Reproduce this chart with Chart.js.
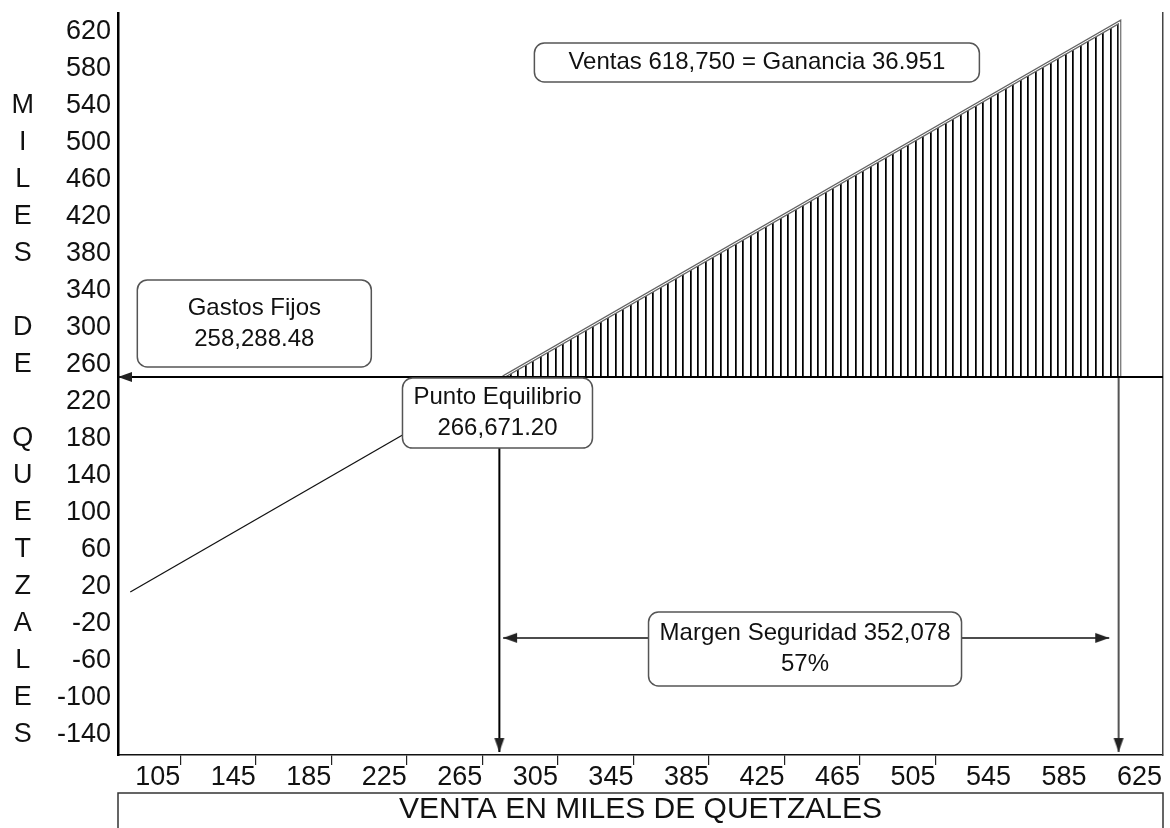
<!DOCTYPE html>
<html>
<head>
<meta charset="utf-8">
<script src="https://cdn.jsdelivr.net/npm/chart.js@4.4.1/dist/chart.umd.min.js"></script>
<style>
  html, body { margin: 0; padding: 0; background: #fff; }
</style>
</head>
<body>
<canvas id="chart" width="1170" height="828"></canvas>
<script>
// valores (miles de quetzales)
const xTicks = [105, 145, 185, 225, 265, 305, 345, 385, 425, 465, 505, 545, 585, 625];
const yTicks = [620, 580, 540, 500, 460, 420, 380, 340, 300, 260, 220, 180, 140, 100, 60, 20, -20, -60, -100, -140];
const yLetters = ['', '', 'M', 'I', 'L', 'E', 'S', '', 'D', 'E', '', 'Q', 'U', 'E', 'T', 'Z', 'A', 'L', 'E', 'S'];

const lossX = [78.5, 276];
const lossY = [14.6, 247];
const profitX = [276, 602.5, 602.5];
const profitY = [247, 630.8, 247];
const fixedCost = 247;
const breakEvenX = 274;
const salesX = 602;
const arrowEndY = -158.4;
const marginX = [276, 597];
const marginY = -35;

const xMin = 72, xMax = 625.5;
const yMin = -161.6, yMax = 640.5;

const notes = [
    { x: 410.4, y: 587, w: 445, h: 39, lines: ['Ventas 618,750 = Ganancia 36.951'] },
    { x: 144.2, y: 304.9, w: 234, h: 87, lines: ['Gastos Fijos', '258,288.48'] },
    { x: 273, y: 208, w: 190, h: 70, lines: ['Punto Equilibrio', '266,671.20'] },
    { x: 435.9, y: -47, w: 313, h: 74, lines: ['Margen Seguridad 352,078', '57%'] }
];

const FONT = 'Liberation Sans';
Chart.defaults.font.family = FONT;

function pts(xs, ys) {
    return xs.map((x, i) => ({ x: x, y: ys[i] }));
}

function noPad(s) {
    s.paddingTop = 0;
    s.paddingBottom = 0;
    s.paddingLeft = 0;
    s.paddingRight = 0;
}

function makeArrow() {
    // punta en el centro del canvas
    let c = document.createElement('canvas');
    c.width = 30;
    c.height = 12;
    let g = c.getContext('2d');
    g.fillStyle = '#222';
    g.beginPath();
    g.moveTo(15, 6);
    g.lineTo(1, 1);
    g.lineTo(1, 11);
    g.closePath();
    g.fill();
    return c;
}

function makeHatch() {
    let c = document.createElement('canvas');
    c.width = 15;
    c.height = 4;
    let g = c.getContext('2d');
    g.fillStyle = '#000';
    g.fillRect(0, 0, 1, 4);
    g.fillRect(7, 0, 1, 4);
    g.fillStyle = '#444';
    g.fillRect(1, 0, 1, 4);
    g.fillRect(8, 0, 1, 4);
    return g.createPattern(c, 'repeat');
}

const arrow = makeArrow();

const decor = {
    id: 'decor',
    afterDraw(chart) {
        const { ctx, chartArea } = chart;
        const x = chart.scales.x, y = chart.scales.y;
        ctx.save();

        // caja del titulo
        const top = x.bottom - 35;
        ctx.strokeStyle = '#333';
        ctx.lineWidth = 1.5;
        ctx.beginPath();
        ctx.moveTo(chartArea.left, x.bottom + 2);
        ctx.lineTo(chartArea.left, top);
        ctx.lineTo(chartArea.right, top);
        ctx.lineTo(chartArea.right, x.bottom + 2);
        ctx.stroke();

        ctx.font = '24px "' + FONT + '"';
        ctx.textAlign = 'center';
        ctx.textBaseline = 'middle';
        notes.forEach(n => {
            const cx = x.getPixelForValue(n.x);
            const cy = y.getPixelForValue(n.y);
            ctx.beginPath();
            ctx.roundRect(cx - n.w / 2, cy - n.h / 2, n.w, n.h, 10);
            ctx.fillStyle = '#fff';
            ctx.fill();
            ctx.strokeStyle = '#555';
            ctx.lineWidth = 1.5;
            ctx.stroke();
            ctx.fillStyle = '#111';
            const step = 31;
            const y0 = cy - (n.lines.length - 1) * step / 2;
            n.lines.forEach((t, i) => ctx.fillText(t, cx, y0 + i * step));
        });
        ctx.restore();
    }
};

function initChart() {
    const hatch = makeHatch();

    let data = {
        datasets: [
            {   // gastos fijos
                data: pts([xMin, xMax], [fixedCost, fixedCost]),
                borderColor: '#000',
                borderWidth: 2,
                pointStyle: arrow,
                pointRadius: [1, 0],
                rotation: [180, 0],
                order: 1
            },
            {   // punto de equilibrio
                data: pts([breakEvenX, breakEvenX], [fixedCost, arrowEndY]),
                borderColor: '#000',
                borderWidth: 2,
                pointStyle: arrow,
                pointRadius: [0, 1],
                rotation: [0, 90],
                order: 2
            },
            {   // ventas
                data: pts([salesX, salesX], [fixedCost, arrowEndY]),
                borderColor: '#555',
                borderWidth: 2,
                pointStyle: arrow,
                pointRadius: [0, 1],
                rotation: [0, 90],
                order: 2
            },
            {   // margen de seguridad
                data: pts(marginX, [marginY, marginY]),
                borderColor: '#111',
                borderWidth: 1.5,
                pointStyle: arrow,
                pointRadius: [1, 1],
                rotation: [180, 0],
                order: 2
            },
            {   // perdida
                data: pts(lossX, lossY),
                borderColor: '#111',
                borderWidth: 1.3,
                pointRadius: 0,
                order: 3
            },
            {   // borde interior de ganancia
                data: pts(profitX, profitY),
                borderColor: '#fff',
                borderWidth: 1,
                pointRadius: 0,
                order: 4
            },
            {   // ganancia
                data: pts(profitX, profitY),
                borderColor: '#666',
                borderWidth: 3.5,
                pointRadius: 0,
                backgroundColor: hatch,
                fill: { value: fixedCost },
                order: 5
            }
        ]
    };

    const tickFont = { size: 27, family: FONT };

    let options = {
        responsive: false,
        animation: false,
        layout: { padding: { top: 13, right: 7, left: 0, bottom: 0 } },
        elements: { line: { tension: 0 } },
        plugins: {
            legend: { display: false },
            tooltip: { enabled: false }
        },
        scales: {
            x: {
                type: 'linear',
                min: xMin,
                max: xMax,
                afterBuildTicks: s => { s.ticks = xTicks.map(v => ({ value: v })); },
                afterFit: s => { s.height = 73; noPad(s); },
                ticks: {
                    callback: v => String(v),
                    align: 'end',
                    autoSkip: false,
                    maxRotation: 0,
                    padding: -4,
                    color: '#111',
                    font: tickFont
                },
                grid: {
                    drawOnChartArea: false,
                    tickLength: 10,
                    lineWidth: 1.2,
                    color: c => (c.tick && c.tick.value >= 545) ? 'rgba(0,0,0,0)' : '#222'
                },
                border: { color: '#111', width: 1.5 },
                title: {
                    display: true,
                    text: 'VENTA EN MILES DE QUETZALES',
                    color: '#111',
                    font: { size: 30, family: FONT },
                    padding: { top: 0, bottom: 0 }
                }
            },
            y: {
                type: 'linear',
                position: 'left',
                min: yMin,
                max: yMax,
                afterBuildTicks: s => { s.ticks = yTicks.map(v => ({ value: v })); },
                afterFit: s => { s.width = 68; noPad(s); },
                ticks: {
                    callback: v => String(v),
                    autoSkip: false,
                    padding: 7,
                    color: '#111',
                    font: tickFont
                },
                grid: { display: false, drawTicks: false },
                border: { display: true, color: '#000', width: 2.5 }
            },
            yl: {
                type: 'linear',
                position: 'left',
                weight: 1,
                min: yMin,
                max: yMax,
                afterBuildTicks: s => { s.ticks = yTicks.map(v => ({ value: v })); },
                afterFit: s => { s.width = 50; noPad(s); },
                ticks: {
                    callback: v => yLetters[yTicks.indexOf(v)],
                    autoSkip: false,
                    padding: 16,
                    crossAlign: 'center',
                    color: '#111',
                    font: tickFont
                },
                grid: { display: false, drawTicks: false },
                border: { display: false }
            },
            yr: {
                type: 'linear',
                position: 'right',
                min: yMin,
                max: yMax,
                afterFit: s => { s.width = 0; noPad(s); },
                ticks: { display: false },
                grid: { display: false, drawTicks: false },
                border: { display: true, color: '#444', width: 1.5 }
            }
        }
    };

    let ctx = document.getElementById('chart').getContext('2d');
    const chart = new Chart(ctx, {
        type: 'line',
        data: data,
        options: options,
        plugins: [decor]
    });
}

initChart();
</script>
</body>
</html>
